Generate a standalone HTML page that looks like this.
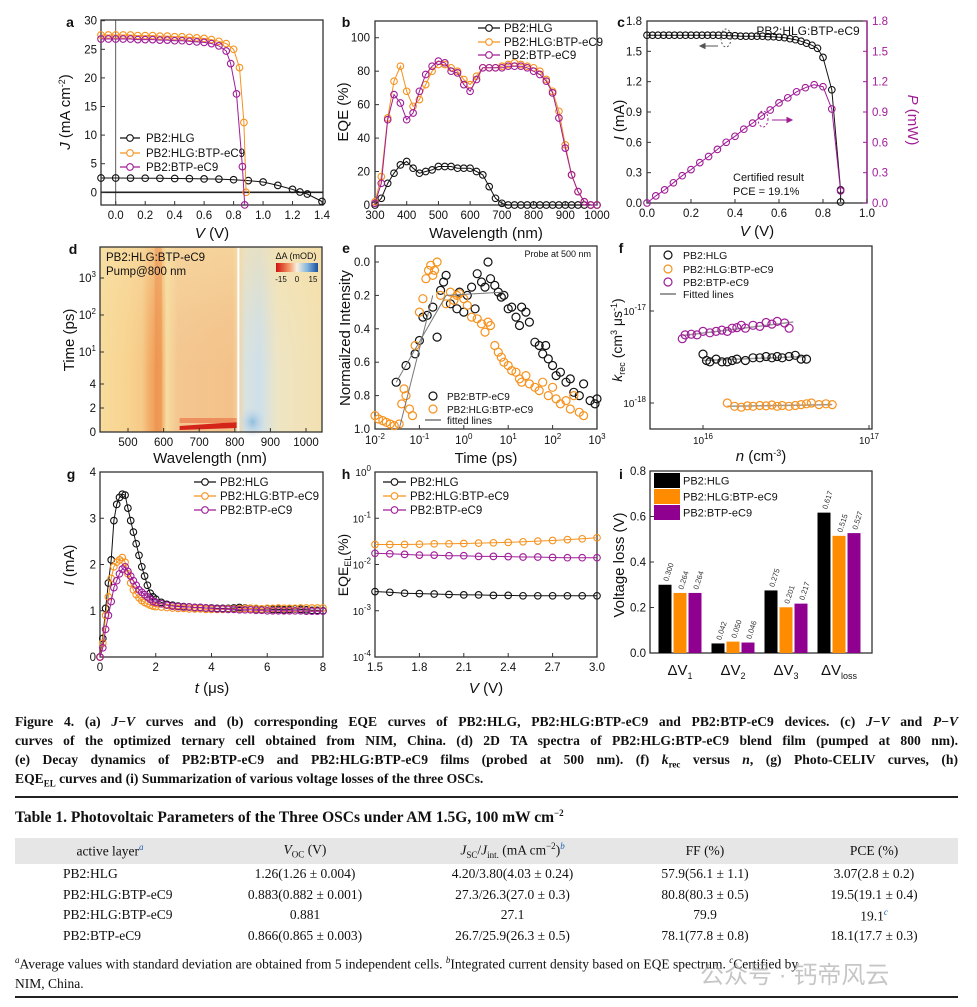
<!DOCTYPE html>
<html><head><meta charset="utf-8">
<style>
body{margin:0;background:#fff;width:977px;height:1007px;overflow:hidden;position:relative;font-family:"Liberation Sans",sans-serif}
#chart{position:absolute;left:0;top:0}
.cap{position:absolute;left:15px;width:943px;font-family:"Liberation Serif",serif;font-weight:bold;font-size:13.6px;color:#111}
.cap div{height:19px;line-height:19px;text-align:justify;text-align-last:justify;white-space:nowrap}
.rule{position:absolute;left:15px;width:943px;height:1.5px;background:#222}
.ttl{position:absolute;left:15px;top:808px;font-family:"Liberation Serif",serif;font-weight:bold;font-size:15.5px;color:#111}
table{position:absolute;left:15px;top:838px;width:943px;border-collapse:collapse;font-family:"Liberation Serif",serif;font-size:13.5px;color:#111}
th{background:#e6e6e6;font-weight:normal;height:26px;padding:0}
td{height:20.5px;padding:0;text-align:center}
td.l{text-align:left;padding-left:48px}
.foot{position:absolute;left:15px;width:943px;font-family:"Liberation Serif",serif;font-size:13.5px;color:#111;line-height:19px}
sup{font-size:9px}
.bl{color:#2060b0;font-style:italic}
</style></head>
<body>
<svg id="chart" width="977" height="705" font-family="Liberation Sans, sans-serif">
<defs>
<linearGradient id="tagrad" x1="0" x2="1" y1="0" y2="0">
<stop offset="0" stop-color="#f7dc9c"/><stop offset="0.125" stop-color="#f8d390"/><stop offset="0.19" stop-color="#f6c987"/>
<stop offset="0.22" stop-color="#f3b06a"/><stop offset="0.255" stop-color="#ef9a55"/><stop offset="0.275" stop-color="#f2a560"/>
<stop offset="0.3" stop-color="#f6dca0"/><stop offset="0.35" stop-color="#f4c690"/><stop offset="0.6" stop-color="#f3c28a"/>
<stop offset="0.6" stop-color="#f4c48c"/><stop offset="0.615" stop-color="#f5cf9a"/><stop offset="0.655" stop-color="#d8e2e0"/>
<stop offset="0.72" stop-color="#cfe0ea"/><stop offset="0.8" stop-color="#eee5c4"/><stop offset="1" stop-color="#f3e0b0"/>
</linearGradient>
<linearGradient id="fade" x1="0" x2="0" y1="0" y2="1">
<stop offset="0" stop-color="#f7e0a8" stop-opacity="0.55"/><stop offset="0.6" stop-color="#f7e0a8" stop-opacity="0.15"/><stop offset="1" stop-color="#f7e0a8" stop-opacity="0"/>
</linearGradient>
<linearGradient id="cbar" x1="0" x2="1" y1="0" y2="0">
<stop offset="0" stop-color="#d01010"/><stop offset="0.3" stop-color="#f29060"/><stop offset="0.5" stop-color="#f8f0e0"/><stop offset="0.75" stop-color="#80b4dc"/><stop offset="1" stop-color="#1a4fa0"/>
</linearGradient>
<radialGradient id="blueblob"><stop offset="0" stop-color="#8fbde0"/><stop offset="1" stop-color="#cfe0ea" stop-opacity="0"/></radialGradient>
</defs>
</svg>

<div class="cap" style="top:712px">
<div>Figure 4. (a) <i>J</i>−<i>V</i> curves and (b) corresponding EQE curves of PB2:HLG, PB2:HLG:BTP-eC9 and PB2:BTP-eC9 devices. (c) <i>J</i>−<i>V</i> and <i>P</i>−<i>V</i></div>
<div>curves of the optimized ternary cell obtained from NIM, China. (d) 2D TA spectra of PB2:HLG:BTP-eC9 blend film (pumped at 800 nm).</div>
<div>(e) Decay dynamics of PB2:BTP-eC9 and PB2:HLG:BTP-eC9 films (probed at 500 nm). (f) <i>k</i><sub style="font-size:9px">rec</sub> versus <i>n</i>, (g) Photo-CELIV curves, (h)</div>
<div style="text-align-last:left">EQE<sub style="font-size:9px">EL</sub> curves and (i) Summarization of various voltage losses of the three OSCs.</div>
</div>
<div class="rule" style="top:796px"></div>
<div class="ttl">Table 1. Photovoltaic Parameters of the Three OSCs under AM 1.5G, 100 mW cm<sup>−2</sup></div>
<table>
<tr><th style="width:190px">active layer<sup class="bl">a</sup></th><th style="width:200px"><i>V</i><sub style="font-size:9px">OC</sub> (V)</th><th style="width:215px"><i>J</i><sub style="font-size:9px">SC</sub>/<i>J</i><sub style="font-size:9px">int.</sub> (mA cm<sup>−2</sup>)<sup class="bl">b</sup></th><th style="width:170px">FF (%)</th><th>PCE (%)</th></tr>
<tr><td class="l">PB2:HLG</td><td>1.26(1.26 ± 0.004)</td><td>4.20/3.80(4.03 ± 0.24)</td><td>57.9(56.1 ± 1.1)</td><td>3.07(2.8 ± 0.2)</td></tr>
<tr><td class="l">PB2:HLG:BTP-eC9</td><td>0.883(0.882 ± 0.001)</td><td>27.3/26.3(27.0 ± 0.3)</td><td>80.8(80.3 ± 0.5)</td><td>19.5(19.1 ± 0.4)</td></tr>
<tr><td class="l">PB2:HLG:BTP-eC9</td><td>0.881</td><td>27.1</td><td>79.9</td><td>19.1<sup class="bl">c</sup></td></tr>
<tr><td class="l">PB2:BTP-eC9</td><td>0.866(0.865 ± 0.003)</td><td>26.7/25.9(26.3 ± 0.5)</td><td>78.1(77.8 ± 0.8)</td><td>18.1(17.7 ± 0.3)</td></tr>
</table>
<div class="foot" style="top:951px"><sup><i>a</i></sup>Average values with standard deviation are obtained from 5 independent cells. <sup><i>b</i></sup>Integrated current density based on EQE spectrum. <sup><i>c</i></sup>Certified by<br>NIM, China.</div>
<div style="position:absolute;left:700px;top:955px;font-family:'Liberation Sans','Noto Sans CJK SC',sans-serif;font-size:24px;color:#999;opacity:0.55">公众号 · 钙帝风云</div>
<div class="rule" style="top:996px"></div>

<script>
// ---------- data ----------
const aVfine=[-0.1,-0.05,0,0.05,0.1,0.15,0.2,0.25,0.3,0.35,0.4,0.45,0.5,0.55,0.6,0.65,0.7,0.75,0.8,0.84,0.87,0.885];
const aJorange=[27.5,27.5,27.5,27.5,27.5,27.4,27.4,27.4,27.3,27.3,27.2,27.2,27.1,27.0,26.9,26.7,26.4,26.0,25.0,21.8,12.2,0];
const aVpurple=[-0.1,-0.05,0,0.05,0.1,0.15,0.2,0.25,0.3,0.35,0.4,0.45,0.5,0.55,0.6,0.65,0.7,0.75,0.78,0.82,0.86,0.875];
const aJpurple=[26.8,26.8,26.8,26.8,26.8,26.7,26.7,26.7,26.6,26.6,26.5,26.5,26.4,26.3,26.2,26.0,25.6,24.7,22.5,17.2,4.5,-2.2];
const aVblack=[-0.1,0,0.1,0.2,0.3,0.4,0.5,0.6,0.7,0.8,0.9,1.0,1.1,1.2,1.25,1.3,1.4];
const aJblack=[2.5,2.5,2.48,2.46,2.44,2.42,2.4,2.35,2.3,2.2,2.05,1.8,1.2,0.5,0.05,-0.3,-1.6];

const bWl=[300,320,340,360,380,400,420,440,460,480,500,520,540,560,580,600,620,640,660,680,700,720,740,760,780,800,820,840,860,880,900,920,940,960,980,1000];
const bOrange=[2,17,52,74,83,68,59,63,72,80,84,84,82,80,75,72,77,82,82,82,83,84,85,84,83,82,80,75,68,56,36,18,8,2,0,0];
const bPurple=[1,13,51,66,61,51,55,68,78,83,86,85,80,79,72,68,75,82,82,82,82,83,83,83,82,80,78,74,67,52,34,18,8,2,0,0];
const bBlack=[0,4,13,19,24,26,22,19,20,21,23,23,23,22,22,22,20,18,11,4,1,0,0,0,0,0,0,0,0,0,0,0,0,0,0,0];

const cV=[0,0.025,0.05,0.075,0.1,0.125,0.15,0.175,0.2,0.225,0.25,0.275,0.3,0.325,0.35,0.375,0.4,0.425,0.45,0.475,0.5,0.525,0.55,0.575,0.6,0.625,0.65,0.675,0.7,0.725,0.75,0.775,0.8,0.84,0.88,0.88];
const cI=[1.66,1.66,1.66,1.66,1.66,1.66,1.66,1.66,1.66,1.66,1.66,1.66,1.66,1.66,1.66,1.655,1.655,1.65,1.65,1.65,1.65,1.65,1.645,1.645,1.64,1.635,1.625,1.615,1.6,1.58,1.56,1.53,1.44,1.12,0.13,0.01];
const cPV=[0,0.04,0.08,0.12,0.16,0.2,0.24,0.28,0.32,0.36,0.4,0.44,0.48,0.52,0.56,0.6,0.64,0.68,0.72,0.76,0.8,0.84,0.88];
const cP=[0,0.07,0.13,0.2,0.27,0.33,0.4,0.46,0.53,0.6,0.66,0.73,0.79,0.86,0.92,0.99,1.04,1.1,1.14,1.17,1.15,0.93,0.12];

const eTblack=[0.03,0.05,0.08,0.1,0.12,0.15,0.2,0.25,0.3,0.35,0.4,0.5,0.7,0.8,1,1.2,1.5,1.8,2,2.5,3,3.5,4,5,6,7,8,10,12,15,18,20,25,30,40,50,60,70,80,100,120,150,200,250,300,400,500,700,900,1000];
const eIblack=[0.72,0.62,0.55,0.47,0.33,0.32,0.27,0.45,0.17,0.12,0.08,0.25,0.28,0.18,0.3,0.2,0.15,0.28,0.07,0.12,0.15,0.0,0.1,0.14,0.18,0.21,0.2,0.28,0.27,0.33,0.38,0.27,0.3,0.36,0.48,0.5,0.55,0.5,0.58,0.62,0.68,0.66,0.72,0.7,0.78,0.8,0.73,0.83,0.85,0.82];
const eTorange=[0.01,0.012,0.015,0.018,0.022,0.027,0.035,0.04,0.045,0.05,0.06,0.07,0.08,0.1,0.12,0.14,0.16,0.18,0.2,0.22,0.25,0.3,0.4,0.5,0.6,0.7,0.8,1,1.2,1.5,2,2.5,3,3.5,4,5,6,7,8,10,12,15,18,20,25,30,40,50,60,80,100,120,150,200,250,300,400,500];
const eIorange=[0.92,0.94,0.95,0.96,0.97,0.98,0.97,0.85,0.76,0.8,0.88,0.92,0.5,0.3,0.22,0.1,0.05,0.02,0.08,0.05,0.0,0.2,0.25,0.18,0.23,0.2,0.19,0.22,0.26,0.33,0.34,0.37,0.42,0.36,0.38,0.5,0.54,0.57,0.6,0.62,0.65,0.66,0.7,0.72,0.68,0.73,0.75,0.77,0.72,0.8,0.75,0.82,0.85,0.83,0.88,0.8,0.9,0.92];
const eFitBlackT=[0.03,0.4,8];
const eFitBlackI=[0.72,0.2,0.18];
const eFitOrangeT=[0.035,0.2];
const eFitOrangeI=[1.0,0.2];

const fNpurple=[7.5e15,7.8e15,8.5e15,9.2e15,1e16,1.1e16,1.2e16,1.3e16,1.4e16,1.5e16,1.6e16,1.7e16,1.8e16,2e16,2.2e16,2.4e16,2.6e16,2.8e16,3.1e16,3.3e16];
const fKpurple=[5e-18,5.5e-18,5.6e-18,5.5e-18,6e-18,5.8e-18,6e-18,6.2e-18,6e-18,6.5e-18,6.6e-18,7e-18,6.5e-18,7e-18,6.8e-18,7.5e-18,7.2e-18,7.7e-18,7.4e-18,6.5e-18];
const fNblack=[1e16,1.05e16,1.1e16,1.2e16,1.3e16,1.4e16,1.5e16,1.6e16,1.8e16,2e16,2.2e16,2.4e16,2.6e16,2.8e16,3e16,3.3e16,3.6e16,3.9e16,4.2e16];
const fKblack=[3.4e-18,2.9e-18,2.8e-18,3e-18,2.8e-18,2.8e-18,2.9e-18,3e-18,2.9e-18,3.1e-18,3.1e-18,3.2e-18,3.1e-18,3.2e-18,3.1e-18,3.2e-18,3.3e-18,3e-18,3e-18];
const fNorange=[1.4e16,1.55e16,1.7e16,1.85e16,2e16,2.2e16,2.4e16,2.6e16,2.8e16,3e16,3.3e16,3.6e16,3.9e16,4.2e16,4.5e16,5e16,5.5e16,6e16];
const fKorange=[1e-18,9.2e-19,9e-19,9.3e-19,9.2e-19,9.4e-19,9.3e-19,9.5e-19,9.2e-19,9.4e-19,9.2e-19,9.4e-19,9.6e-19,9.8e-19,1e-18,9.6e-19,9.8e-19,9.6e-19];
const fFitN=[[7.5e15,3.5e16],[1e16,4.2e16],[1.4e16,6e16]];
const fFitK=[[5.4e-18,7.6e-18],[2.9e-18,3.2e-18],[9.2e-19,9.6e-19]];

const gT=[0,0.1,0.2,0.3,0.4,0.5,0.6,0.7,0.8,0.9,1.0,1.1,1.2,1.3,1.4,1.5,1.6,1.7,1.8,1.9,2.0,2.2,2.4,2.6,2.8,3.0,3.2,3.4,3.6,3.8,4.0,4.2,4.4,4.6,4.8,5.0,5.2,5.4,5.6,5.8,6.0,6.2,6.4,6.6,6.8,7.0,7.2,7.4,7.6,7.8,8.0];
const gBlack=[0,0.4,1.05,1.6,2.1,2.95,3.3,3.45,3.52,3.5,3.22,2.95,2.7,2.45,2.2,1.95,1.75,1.55,1.38,1.3,1.25,1.18,1.14,1.12,1.1,1.09,1.08,1.07,1.07,1.06,1.06,1.05,1.05,1.05,1.06,1.07,1.06,1.05,1.04,1.03,1.04,1.03,1.03,1.02,1.03,1.04,1.03,1.02,1.01,1.01,1.0];
const gOrange=[0,0.3,0.9,1.3,1.7,1.95,2.05,2.1,2.15,2.05,1.8,1.6,1.45,1.35,1.28,1.22,1.18,1.15,1.12,1.1,1.09,1.08,1.07,1.06,1.05,1.05,1.04,1.04,1.04,1.03,1.03,1.03,1.03,1.04,1.04,1.04,1.05,1.05,1.05,1.04,1.05,1.05,1.06,1.05,1.05,1.05,1.06,1.06,1.06,1.06,1.06];
const gPurple=[0,0.2,0.6,0.9,1.2,1.5,1.65,1.8,1.9,1.95,1.85,1.75,1.65,1.55,1.45,1.4,1.35,1.3,1.25,1.2,1.18,1.15,1.12,1.1,1.09,1.08,1.08,1.07,1.07,1.06,1.05,1.04,1.04,1.03,1.03,1.02,1.02,1.02,1.01,1.01,1.0,1.0,1.0,1.0,1.0,1.0,1.0,0.99,0.99,0.99,0.99];

const hV=[1.5,1.6,1.7,1.8,1.9,2.0,2.1,2.2,2.3,2.4,2.5,2.6,2.7,2.8,2.9,3.0];
const hBlack=[2.6e-3,2.5e-3,2.4e-3,2.35e-3,2.3e-3,2.25e-3,2.2e-3,2.2e-3,2.15e-3,2.15e-3,2.1e-3,2.1e-3,2.1e-3,2.1e-3,2.1e-3,2.1e-3];
const hOrange=[2.7e-2,2.7e-2,2.7e-2,2.75e-2,2.8e-2,2.8e-2,2.85e-2,2.9e-2,2.95e-2,3.0e-2,3.1e-2,3.2e-2,3.3e-2,3.45e-2,3.6e-2,3.8e-2];
const hPurple=[1.75e-2,1.7e-2,1.65e-2,1.6e-2,1.6e-2,1.55e-2,1.55e-2,1.5e-2,1.5e-2,1.48e-2,1.45e-2,1.45e-2,1.42e-2,1.4e-2,1.4e-2,1.4e-2];

const iGroups=['V1','V2','V3','Vloss'];
const iBlack=[0.300,0.042,0.275,0.617];
const iOrange=[0.264,0.050,0.201,0.515];
const iPurple=[0.264,0.046,0.217,0.527];

// ---------- helpers ----------
const svg=document.getElementById('chart');
const NS='http://www.w3.org/2000/svg';
const BLK='#111',ORG='#f6921e',PUR='#a01d98',GRY='#999';
function mk(tag,attrs,parent){const e=document.createElementNS(NS,tag);for(const k in attrs)e.setAttribute(k,attrs[k]);(parent||svg).appendChild(e);return e;}
function lin(d0,d1,r0,r1){return v=>r0+(v-d0)/(d1-d0)*(r1-r0);}
function lg(d0,d1,r0,r1){const a=Math.log10(d0),b=Math.log10(d1);return v=>r0+(Math.log10(v)-a)/(b-a)*(r1-r0);}
function grp(name){const g=mk('g',{});return g;}
function text(g,x,y,s,o){o=o||{};const t=mk('text',{x:x,y:y,'font-size':o.fs||11.5,'text-anchor':o.a||'middle',fill:o.c||'#111','font-weight':o.w||'normal'},g);if(o.tr)t.setAttribute('transform',o.tr);t.innerHTML=s;return t;}
function frame(g,x0,y0,x1,y1){mk('rect',{x:x0,y:y0,width:x1-x0,height:y1-y0,fill:'none',stroke:'#333','stroke-width':1.3},g);}
function xticks(g,vals,labels,X,yb,ly,o){vals.forEach((v,i)=>{mk('line',{x1:X(v),x2:X(v),y1:yb,y2:yb-4,stroke:'#333'},g);if(labels&&labels[i]!=='')text(g,X(v),ly,labels[i],o);});}
function yticks(g,vals,labels,Y,xl,lx,o,right){vals.forEach((v,i)=>{mk('line',{x1:xl,x2:xl+(right?-4:4),y1:Y(v),y2:Y(v),stroke:(o&&o.c)||'#333'},g);if(labels)text(g,lx,Y(v)+4,labels[i],Object.assign({a:right?'start':'end'},o||{}));});}
function series(g,xs,ys,X,Y,color,name,o){o=o||{};
  if(o.line!==false){const p=mk('path',{d:xs.map((x,i)=>(i?'L':'M')+X(x).toFixed(1)+','+Y(ys[i]).toFixed(1)).join(''),fill:'none',stroke:color,'stroke-width':o.lw||1},g);}
  xs.forEach((x,i)=>{const c=mk('circle',{cx:X(x).toFixed(1),cy:Y(ys[i]).toFixed(1),r:o.r||3.3,fill:'none',stroke:color,'stroke-width':o.sw||1.1},g);});}
function legendLine(g,x0,x1,y,color,label,tx){mk('line',{x1:x0,x2:x1,y1:y,y2:y,stroke:color,'stroke-width':1.2},g);mk('circle',{cx:(x0+x1)/2,cy:y,r:3.3,fill:'#fff',stroke:color,'stroke-width':1.1},g);const t=text(g,tx,y+4,label,{a:'start'});}

// ---------- panel a ----------
(function(){const g=grp('panel-a');const X=lin(-0.1,1.4,101,322),Y=lin(0,30,192.3,20.7);
frame(g,101,20,323,205);
mk('line',{x1:X(0),x2:X(0),y1:20,y2:205,stroke:'#333','stroke-width':0.8},g);
mk('line',{x1:101,x2:323,y1:Y(0),y2:Y(0),stroke:'#222','stroke-width':1.6},g);
xticks(g,[0,0.2,0.4,0.6,0.8,1.0,1.2,1.4],['0.0','0.2','0.4','0.6','0.8','1.0','1.2','1.4'],X,205,219);
yticks(g,[0,5,10,15,20,25,30],['0','5','10','15','20','25','30'],Y,101,97);
series(g,aVblack,aJblack,X,Y,BLK,'pb2-hlg');
series(g,aVfine,aJorange,X,Y,ORG,'pb2-hlg-btp');
series(g,aVpurple,aJpurple,X,Y,PUR,'pb2-btp');
legendLine(g,120,140,138,BLK,'PB2:HLG',146);legendLine(g,120,140,153,ORG,'PB2:HLG:BTP-eC9',146);legendLine(g,120,140,167,PUR,'PB2:BTP-eC9',146);
text(g,70,27,'a',{fs:14,w:'bold'});
text(g,70,112,'<tspan font-style="italic">J</tspan> (mA cm<tspan dy="-5" font-size="9">-2</tspan><tspan dy="5">)</tspan>',{fs:15,tr:'rotate(-90 70 112)'});
text(g,212,238,'<tspan font-style="italic">V</tspan> (V)',{fs:15});})();

// ---------- panel b ----------
(function(){const g=grp('panel-b');const X=lin(300,1000,375,597),Y=lin(0,110,205,21);
frame(g,375,21,597,205);
xticks(g,[300,400,500,600,700,800,900,1000],['300','400','500','600','700','800','900','1000'],X,205,219);
yticks(g,[0,20,40,60,80,100],['0','20','40','60','80','100'],Y,375,370);
series(g,bWl,bBlack,X,Y,BLK,'pb2-hlg');
series(g,bWl,bOrange,X,Y,ORG,'pb2-hlg-btp');
series(g,bWl,bPurple,X,Y,PUR,'pb2-btp');
legendLine(g,478,500,28,BLK,'PB2:HLG',504);legendLine(g,478,500,42,ORG,'PB2:HLG:BTP-eC9',504);legendLine(g,478,500,55,PUR,'PB2:BTP-eC9',504);
text(g,346,27,'b',{fs:14,w:'bold'});
text(g,348,112,'EQE (%)',{fs:15,tr:'rotate(-90 348 112)'});
text(g,486,238,'Wavelength (nm)',{fs:15});})();

// ---------- panel c ----------
(function(){const g=grp('panel-c');const X=lin(0,1,647,867),Y=lin(0,1.8,203,21);
frame(g,647,21,867,203);
mk('line',{x1:867,x2:867,y1:21,y2:203,stroke:PUR,'stroke-width':1.3},g);
xticks(g,[0,0.2,0.4,0.6,0.8,1.0],['0.0','0.2','0.4','0.6','0.8','1.0'],X,203,217);
yticks(g,[0,0.3,0.6,0.9,1.2,1.5,1.8],['0.0','0.3','0.6','0.9','1.2','1.5','1.8'],Y,647,642);
yticks(g,[0,0.3,0.6,0.9,1.2,1.5,1.8],['0.0','0.3','0.6','0.9','1.2','1.5','1.8'],Y,867,872,{c:PUR},true);
series(g,cV,cI,X,Y,BLK,'current');
series(g,cPV,cP,X,Y,PUR,'power');
text(g,808,35,'PB2:HLG:BTP-eC9',{fs:12});
text(g,733,181,'Certified result',{a:'start',fs:11});text(g,733,195,'PCE = 19.1%',{a:'start',fs:11});
mk('ellipse',{cx:726,cy:38,rx:5,ry:9,fill:'none',stroke:'#555','stroke-dasharray':'2,2'},g);
mk('path',{d:'M718,46 L700,46 M700,46 l5,-2.5 v5 z',stroke:'#555',fill:'#555'},g);
mk('ellipse',{cx:763,cy:119,rx:5,ry:8,fill:'none',stroke:PUR,'stroke-dasharray':'2,2'},g);
mk('path',{d:'M772,120 L792,120 M792,120 l-5,-2.5 v5 z',stroke:PUR,fill:PUR},g);
text(g,621,27,'c',{fs:14,w:'bold'});
text(g,624,120,'<tspan font-style="italic">I</tspan> (mA)',{fs:15,tr:'rotate(-90 624 120)'});
text(g,908,120,'<tspan font-style="italic">P</tspan> (mW)',{fs:15,c:PUR,tr:'rotate(90 908 120)'});
text(g,757,236,'<tspan font-style="italic">V</tspan> (V)',{fs:15});})();

// ---------- panel d ----------
(function(){const g=grp('panel-d');const X=lin(500,1000,128,306);
const Y=v=>432-v*12;
mk('rect',{x:100,y:247,width:222,height:185,fill:'url(#tagrad)'},g);
mk('rect',{x:100,y:247,width:222,height:120,fill:'url(#fade)'},g);
mk('rect',{x:X(575),y:247,width:X(595)-X(575),height:185,fill:'#ee9050',opacity:0.45},g);
mk('ellipse',{cx:X(850),cy:422,rx:14,ry:16,fill:'url(#blueblob)'},g);
mk('path',{d:`M${X(645)},426 L${X(805)},422 L${X(805)},428 L${X(645)},430 Z`,fill:'#d42318'},g);
mk('rect',{x:X(645),y:418,width:X(805)-X(645),height:5,fill:'#ea6a40',opacity:0.6},g);
mk('line',{x1:X(810),x2:X(810),y1:247,y2:432,stroke:'#fff','stroke-width':2},g);
frame(g,100,247,322,432);
xticks(g,[500,600,700,800,900,1000],['500','600','700','800','900','1000'],X,432,446);
yticks(g,[0,2,4],['0','2','4'],Y,100,96);
[[352,'10<tspan dy="-5" font-size="8">1</tspan>'],[315,'10<tspan dy="-5" font-size="8">2</tspan>'],[278,'10<tspan dy="-5" font-size="8">3</tspan>']].forEach(a=>{mk('line',{x1:100,x2:104,y1:a[0],y2:a[0],stroke:'#333'},g);text(g,96,a[0]+4,a[1],{a:'end'});});
text(g,106,261,'PB2:HLG:BTP-eC9',{a:'start',fs:11.5});text(g,106,275,'Pump@800 nm',{a:'start',fs:11.5});
mk('rect',{x:276,y:263,width:42,height:9,fill:'url(#cbar)'},g);
text(g,296,259,'ΔA (mOD)',{fs:9});text(g,281,282,'-15',{fs:8});text(g,297,282,'0',{fs:8});text(g,313,282,'15',{fs:8});
text(g,73,254,'d',{fs:14,w:'bold'});
text(g,74,340,'Time (ps)',{fs:15,tr:'rotate(-90 74 340)'});
text(g,210,463,'Wavelength (nm)',{fs:15});})();

// ---------- panel e ----------
(function(){const g=grp('panel-e');const X=lg(0.01,1000,375,597),Y=lin(0,1,262,429);
frame(g,375,246,597,429);
[[0.01,'-2'],[0.1,'-1'],[1,'0'],[10,'1'],[100,'2'],[1000,'3']].forEach(a=>{mk('line',{x1:X(a[0]),x2:X(a[0]),y1:429,y2:425,stroke:'#333'},g);text(g,X(a[0]),444,'10<tspan dy="-5" font-size="8">'+a[1]+'</tspan>');});
yticks(g,[0,0.2,0.4,0.6,0.8,1.0],['0.0','0.2','0.4','0.6','0.8','1.0'],Y,375,370);
series(g,eTblack,eIblack,X,Y,BLK,'pb2-btp',{line:false,r:4,sw:1.2});
series(g,eTorange,eIorange,X,Y,ORG,'pb2-hlg-btp',{line:false,r:4,sw:1.2});
series(g,eFitBlackT,eFitBlackI,X,Y,'#777','fit-black',{r:0.01,sw:0});
series(g,eFitOrangeT,eFitOrangeI,X,Y,'#777','fit-orange',{r:0.01,sw:0});
text(g,591,257,'Probe at 500 nm',{a:'end',fs:9});
mk('circle',{cx:433,cy:396,r:4,fill:'none',stroke:BLK,'stroke-width':1.2},g);text(g,447,400,'PB2:BTP-eC9',{a:'start',fs:10});
mk('circle',{cx:433,cy:409,r:4,fill:'none',stroke:ORG,'stroke-width':1.2},g);text(g,447,413,'PB2:HLG:BTP-eC9',{a:'start',fs:10});
mk('line',{x1:425,x2:441,y1:420,y2:420,stroke:GRY,'stroke-width':2},g);text(g,447,424,'fitted lines',{a:'start',fs:10});
text(g,346,253,'e',{fs:14,w:'bold'});
text(g,350,338,'Normailzed Intensity',{fs:15,tr:'rotate(-90 350 338)'});
text(g,486,463,'Time (ps)',{fs:15});})();

// ---------- panel f ----------
(function(){const g=grp('panel-f');const X=lg(1e15,1e17,537,869),Y=lg(1e-18,1e-17,403,311);
frame(g,650,246,872,429);
[[1e16,'16'],[1e17,'17']].forEach(a=>{mk('line',{x1:X(a[0]),x2:X(a[0]),y1:429,y2:425,stroke:'#333'},g);text(g,X(a[0]),444,'10<tspan dy="-5" font-size="8">'+a[1]+'</tspan>',{fs:10});});
[[1e-17,'-17'],[1e-18,'-18']].forEach(a=>{mk('line',{x1:650,x2:654,y1:Y(a[0]),y2:Y(a[0]),stroke:'#333'},g);text(g,646,Y(a[0])+4,'10<tspan dy="-5" font-size="8">'+a[1]+'</tspan>',{a:'end',fs:10});});
fFitN.forEach((n,i)=>series(g,n,fFitK[i],X,Y,GRY,'fitted-line-'+i,{r:0.01,sw:0,lw:1.5}));
series(g,fNpurple,fKpurple,X,Y,PUR,'pb2-btp',{line:false,r:4,sw:1.2});
series(g,fNblack,fKblack,X,Y,BLK,'pb2-hlg',{line:false,r:4,sw:1.2});
series(g,fNorange,fKorange,X,Y,ORG,'pb2-hlg-btp',{line:false,r:4,sw:1.2});
mk('circle',{cx:668,cy:255,r:4,fill:'none',stroke:BLK,'stroke-width':1.2},g);text(g,683,259,'PB2:HLG',{a:'start',fs:10.5});
mk('circle',{cx:668,cy:269,r:4,fill:'none',stroke:ORG,'stroke-width':1.2},g);text(g,683,273,'PB2:HLG:BTP-eC9',{a:'start',fs:10.5});
mk('circle',{cx:668,cy:282,r:4,fill:'none',stroke:PUR,'stroke-width':1.2},g);text(g,683,286,'PB2:BTP-eC9',{a:'start',fs:10.5});
mk('line',{x1:660,x2:676,y1:294,y2:294,stroke:GRY,'stroke-width':2},g);text(g,683,298,'Fitted lines',{a:'start',fs:10.5});
text(g,621,253,'f',{fs:14,w:'bold'});
text(g,622,340,'<tspan font-style="italic">k</tspan><tspan font-size="9" dy="3">rec</tspan><tspan dy="-3"> (cm</tspan><tspan dy="-5" font-size="9">3</tspan><tspan dy="5"> μs</tspan><tspan dy="-5" font-size="9">-1</tspan><tspan dy="5">)</tspan>',{fs:14,tr:'rotate(-90 622 340)'});
text(g,761,461,'<tspan font-style="italic">n</tspan> (cm<tspan dy="-5" font-size="9">-3</tspan><tspan dy="5">)</tspan>',{fs:15});})();

// ---------- panel g ----------
(function(){const g=grp('panel-g');const X=lin(0,8,100,323),Y=lin(0,4,657,472);
frame(g,100,472,323,657);
xticks(g,[0,2,4,6,8],['0','2','4','6','8'],X,657,671);
yticks(g,[0,1,2,3,4],['0','1','2','3','4'],Y,100,96);
series(g,gT,gBlack,X,Y,BLK,'pb2-hlg');
series(g,gT,gOrange,X,Y,ORG,'pb2-hlg-btp');
series(g,gT,gPurple,X,Y,PUR,'pb2-btp');
legendLine(g,194,216,482,BLK,'PB2:HLG',220);legendLine(g,194,216,496,ORG,'PB2:HLG:BTP-eC9',220);legendLine(g,194,216,510,PUR,'PB2:BTP-eC9',220);
text(g,71,479,'g',{fs:14,w:'bold'});
text(g,74,565,'<tspan font-style="italic">I</tspan> (mA)',{fs:15,tr:'rotate(-90 74 565)'});
text(g,212,693,'<tspan font-style="italic">t</tspan> (μs)',{fs:15});})();

// ---------- panel h ----------
(function(){const g=grp('panel-h');const X=lin(1.5,3,375,597),Y=lg(1e-4,1,657,472);
frame(g,375,472,597,657);
xticks(g,[1.5,1.8,2.1,2.4,2.7,3.0],['1.5','1.8','2.1','2.4','2.7','3.0'],X,657,671);
[[1,'0'],[0.1,'-1'],[0.01,'-2'],[0.001,'-3'],[1e-4,'-4']].forEach(a=>{mk('line',{x1:375,x2:379,y1:Y(a[0]),y2:Y(a[0]),stroke:'#333'},g);text(g,371,Y(a[0])+4,'10<tspan dy="-5" font-size="8">'+a[1]+'</tspan>',{a:'end',fs:10});});
series(g,hV,hBlack,X,Y,BLK,'pb2-hlg');
series(g,hV,hOrange,X,Y,ORG,'pb2-hlg-btp');
series(g,hV,hPurple,X,Y,PUR,'pb2-btp');
legendLine(g,383,406,482,BLK,'PB2:HLG',410);legendLine(g,383,406,496,ORG,'PB2:HLG:BTP-eC9',410);legendLine(g,383,406,510,PUR,'PB2:BTP-eC9',410);
text(g,346,479,'h',{fs:14,w:'bold'});
text(g,348,565,'EQE<tspan font-size="9" dy="3">EL</tspan><tspan dy="-3">(%)</tspan>',{fs:14,tr:'rotate(-90 348 565)'});
text(g,486,693,'<tspan font-style="italic">V</tspan> (V)',{fs:15});})();

// ---------- panel i ----------
(function(){const g=grp('panel-i');const Y=lin(0,0.8,653,471);
const G0=680,GW=53,BW=13;const gx=i=>G0+i*GW;
frame(g,650,471,872,653);
yticks(g,[0,0.2,0.4,0.6,0.8],['0.0','0.2','0.4','0.6','0.8'],Y,650,646);
const sets=[[iBlack,'#000',-1,'pb2-hlg'],[iOrange,'#ff8c00',0,'pb2-hlg-btp'],[iPurple,'#900090',1,'pb2-btp']];
iGroups.forEach((lab,i)=>{
  sets.forEach(s=>{const v=s[0][i];const x=gx(i)+s[2]*(BW+2)-BW/2;
    const r=mk('rect',{x:x,y:Y(v),width:BW,height:Y(0)-Y(v),fill:s[1]},g);
    
    
    text(g,x+BW/2+3,Y(v)-3,v.toFixed(3),{fs:7.5,c:'#333',a:'start',tr:`rotate(-72 ${x+BW/2+3} ${Y(v)-3})`});});
  const sub=lab.slice(1);text(g,gx(i),675,'ΔV<tspan font-size="9" dy="4">'+sub+'</tspan>',{fs:15});});
[[473,'#000','PB2:HLG'],[489,'#ff8c00','PB2:HLG:BTP-eC9'],[505,'#900090','PB2:BTP-eC9']].forEach(l=>{mk('rect',{x:654,y:l[0],width:26,height:15,fill:l[1]},g);const t=text(g,683,l[0]+11.5,l[2],{a:'start',fs:11});});
text(g,621,479,'i',{fs:14,w:'bold'});
text(g,624,565,'Voltage loss (V)',{fs:15,tr:'rotate(-90 624 565)'});})();
</script>
</body></html>
